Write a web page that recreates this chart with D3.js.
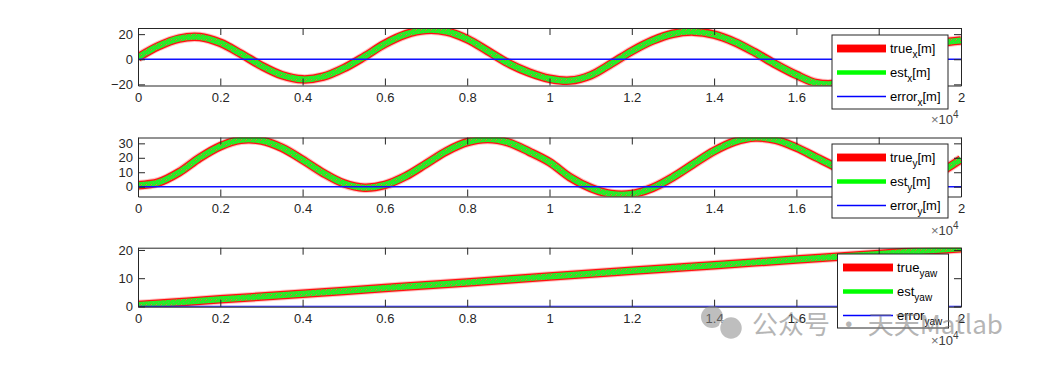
<!DOCTYPE html>
<html>
<head>
<meta charset="utf-8">
<script src="https://cdn.jsdelivr.net/npm/d3@7/dist/d3.min.js"></script>
<style>
  body { margin: 0; background: #fff; }
  svg { display: block; font-family: 'Liberation Sans', Arial, Helvetica, sans-serif; }
</style>
</head>
<body>
<div id="chart"></div>
<script>
// sample positions (time step index), read every 500
const samples = d3.range(0, 20001, 500);
const xTicks = d3.range(0, 20001, 2000);

// position x [m]
const trueX = [1.5, 10.5, 16.5, 17.7, 13.1, 4.4, -5.2, -12.7, -16, -13.9, -7.2,
  2.1, 12.3, 19.8, 23.3, 22.1, 16.1, 6.6, -3.2, -10.5, -15.5,
  -17, -12.8, -3.5, 6.5, 14.8, 20.3, 22, 19.6, 13.7, 5.3,
  -4.1, -12.5, -19.1, -19.5, -15.8, -7.9, 1.5, 9, 13, 15];
// position y [m], middle panel
const trueY = [1, 3, 10, 20, 28, 32.5, 32, 26.9, 18.6, 9.5, 2.3,
  -0.7, 1.2, 7.2, 15.8, 24.6, 30.8, 33, 30.6, 24.3, 17,
  6.5, -0.9, -5.1, -5.1, -0.9, 6.6, 15.8, 24.7, 31.2, 34,
  32.4, 27.1, 20, 13, 6.5, 1.5, -0.5, 2.5, 10, 19];
// yaw, bottom panel (read every 2000)
const yawSamples = d3.range(0, 20001, 2000);
const trueYaw = [0.5, 2.5, 4.5, 6.5, 8.5, 10.6, 12.6, 14.6, 16.6, 18.6, 20.6];

// the estimate sits on top of the truth at this scale
const estX = trueX.slice();
const estY = trueY.slice();
const estYaw = trueYaw.slice();
const errX = trueX.map((v, i) => v - estX[i]);
const errY = trueY.map((v, i) => v - estY[i]);
const errYaw = trueYaw.map((v, i) => v - estYaw[i]);

const legendX = [['true', 'x', '[m]'], ['est', 'x', '[m]'], ['error', 'x', '[m]']];
const legendY = [['true', 'y', '[m]'], ['est', 'y', '[m]'], ['error', 'y', '[m]']];
const legendYaw = [['true', 'yaw', ''], ['est', 'yaw', ''], ['error', 'yaw', '']];

const W = 1063, H = 367;
const left = 138, right = 961;
const txtColor = '#262626';

const svg = d3.select('#chart').append('svg')
  .attr('width', W).attr('height', H)
  .attr('viewBox', [0, 0, W, H]);

const defs = svg.append('defs');
// speckled green texture of the estimate band
const pat = defs.append('pattern')
  .attr('id', 'speckle')
  .attr('patternUnits', 'userSpaceOnUse')
  .attr('width', 5).attr('height', 5);
pat.append('rect').attr('width', 5).attr('height', 5).attr('fill', '#24ee24');
[[0, 0, '#d8603a'], [3, 2, '#4cc84c'], [1, 4, '#e07048'], [4, 4, '#3ad83a']]
  .forEach(([px, py, c]) => pat.append('rect').attr('x', px).attr('y', py)
    .attr('width', 1).attr('height', 1).attr('fill', c));

const x = d3.scaleLinear().domain([0, 20000]).range([left, right]);

const panels = [
  { id: 'px', top: 28, bottom: 85.5, domain: [-20.9, 24.9], ticks: [-20, 0, 20],
    xs: samples, tv: trueX, ev: estX, er: errX, legend: legendX,
    lg: { x: 832, y: 35, w: 116, h: 74, line0: 837, line1: 886 } },
  { id: 'py', top: 137.5, bottom: 196.5, domain: [-6.8, 34.05], ticks: [0, 10, 20, 30],
    xs: samples, tv: trueY, ev: estY, er: errY, legend: legendY,
    lg: { x: 832, y: 144, w: 116, h: 74, line0: 837, line1: 886 } },
  { id: 'pyaw', top: 247.7, bottom: 306.7, domain: [-0.1, 20.8], ticks: [0, 10, 20],
    xs: yawSamples, tv: trueYaw, ev: estYaw, er: errYaw, legend: legendYaw,
    lg: { x: 837.5, y: 254, w: 111, h: 74, line0: 843, line1: 893 } }
];

panels.forEach(p => {
  const y = d3.scaleLinear().domain(p.domain).range([p.bottom, p.top]);
  const g = svg.append('g');

  defs.append('clipPath').attr('id', 'clip-' + p.id)
    .append('rect')
    .attr('x', left).attr('y', p.top)
    .attr('width', right - left).attr('height', p.bottom - p.top);

  const line = d3.line()
    .x((d, i) => x(p.xs[i]))
    .y(d => y(d))
    .curve(d3.curveCatmullRom);

  const plot = g.append('g').attr('clip-path', 'url(#clip-' + p.id + ')');
  plot.append('path').attr('d', line(p.tv)).attr('fill', 'none')
    .attr('stroke', '#ff9a9a').attr('stroke-width', 10.5).attr('stroke-opacity', 0.6);
  plot.append('path').attr('d', line(p.tv)).attr('fill', 'none')
    .attr('stroke', '#ff1010').attr('stroke-width', 8.5);
  plot.append('path').attr('d', line(p.ev)).attr('fill', 'none')
    .attr('stroke', 'url(#speckle)').attr('stroke-width', 6);
  plot.append('path').attr('d', line(p.er)).attr('fill', 'none')
    .attr('stroke', '#1010ff').attr('stroke-width', 1.5);

  // axes, MATLAB style: inward ticks on all four sides
  g.append('g').attr('transform', `translate(0,${p.bottom})`)
    .call(d3.axisBottom(x).tickValues(xTicks).tickSize(-7).tickSizeOuter(0).tickPadding(7)
      .tickFormat(d => String(+(d / 1e4).toFixed(1))));
  g.append('g').attr('transform', `translate(0,${p.top})`)
    .call(d3.axisTop(x).tickValues(xTicks).tickSize(-7).tickSizeOuter(0).tickFormat(''));
  g.append('g').attr('transform', `translate(${left},0)`)
    .call(d3.axisLeft(y).tickValues(p.ticks).tickSize(-7).tickSizeOuter(0).tickPadding(5));
  g.append('g').attr('transform', `translate(${right},0)`)
    .call(d3.axisRight(y).tickValues(p.ticks).tickSize(-7).tickSizeOuter(0).tickFormat(''));
  g.selectAll('.domain, .tick line').attr('stroke', txtColor);
  g.selectAll('.tick text').attr('fill', txtColor).attr('font-size', 13)
    .attr('font-family', "'Liberation Sans', Arial, sans-serif");

  // x10^4 exponent label
  const ex = g.append('text').attr('x', 931).attr('y', p.bottom + 38)
    .attr('fill', '#404040').attr('font-size', 13);
  ex.append('tspan').attr('fill', '#707070').text('\u00d7');
  ex.append('tspan').text('10');
  ex.append('tspan').attr('dy', -6).attr('font-size', 10).text('4');

  // legend
  const lg = p.lg;
  const leg = g.append('g');
  leg.append('rect').attr('x', lg.x).attr('y', lg.y).attr('width', lg.w).attr('height', lg.h)
    .attr('fill', '#fff').attr('stroke', txtColor).attr('stroke-width', 1);
  const styles = [
    { c: '#ff0000', w: 7, halo: true },
    { c: '#00ff00', w: 4.5 },
    { c: '#0000ff', w: 1.5 }
  ];
  p.legend.forEach((item, i) => {
    const ly = lg.y + 13.5 + i * 24;
    const s = styles[i];
    if (s.halo) {
      leg.append('line').attr('x1', lg.line0).attr('x2', lg.line1).attr('y1', ly).attr('y2', ly)
        .attr('stroke', '#ff9090').attr('stroke-width', s.w + 2);
    }
    leg.append('line').attr('x1', lg.line0).attr('x2', lg.line1).attr('y1', ly).attr('y2', ly)
      .attr('stroke', s.c).attr('stroke-width', s.w);
    const t = leg.append('text').attr('x', lg.line1 + 4).attr('y', ly + 4.5)
      .attr('fill', '#000').attr('font-size', 13);
    t.append('tspan').text(item[0]);
    t.append('tspan').attr('dy', 5).attr('font-size', 10).text(item[1]);
    if (item[2]) t.append('tspan').attr('dy', -5).text(item[2]);
  });
});

// watermark from the source image
const wm = svg.append('g').attr('opacity', 0.55);
wm.append('circle').attr('cx', 712).attr('cy', 317).attr('r', 11).attr('fill', '#8a8a8a');
wm.append('circle').attr('cx', 731).attr('cy', 328).attr('r', 11.5)
  .attr('fill', '#8a8a8a').attr('stroke', '#fff').attr('stroke-width', 1.5);
wm.append('text').attr('x', 752).attr('y', 334)
  .attr('font-family', "'Noto Sans CJK SC', sans-serif").attr('font-size', 26)
  .attr('fill', '#7a7a7a')
  .text('公众号 · 天天Matlab');
</script>
</body>
</html>
